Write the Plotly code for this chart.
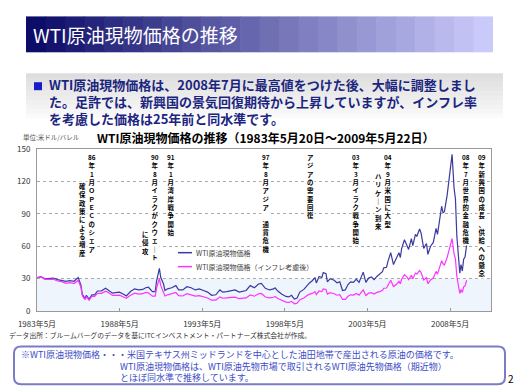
import plotly.graph_objects as go

# ---------------- data ----------------
dates = [
    "1983-05-20", "1983-08-15", "1983-11-15", "1984-02-15", "1984-05-15", "1984-08-15", "1984-11-15",
    "1985-02-15", "1985-05-15", "1985-08-15", "1985-11-15", "1986-01-15", "1986-02-15", "1986-04-15",
    "1986-05-15", "1986-07-15", "1986-09-15", "1986-11-15", "1987-01-15", "1987-04-15", "1987-07-15",
    "1987-09-15", "1987-12-15", "1988-02-15", "1988-05-15", "1988-08-15", "1988-10-15", "1989-01-15",
    "1989-04-15", "1989-07-15", "1989-10-15", "1989-12-15", "1990-02-15", "1990-05-15", "1990-07-15",
    "1990-08-15", "1990-10-15", "1990-11-15", "1990-12-15", "1991-01-15", "1991-02-15", "1991-04-15",
    "1991-07-15", "1991-10-15", "1991-12-15", "1992-03-15", "1992-06-15", "1992-09-15", "1992-12-15",
    "1993-03-15", "1993-06-15", "1993-09-15", "1993-12-15", "1994-03-15", "1994-06-15", "1994-08-15",
    "1994-11-15", "1995-02-15", "1995-05-15", "1995-08-15", "1995-11-15", "1996-01-15", "1996-04-15",
    "1996-07-15", "1996-10-15", "1996-12-15", "1997-03-15", "1997-06-15", "1997-09-15", "1997-10-15",
    "1997-12-15", "1998-03-15", "1998-06-15", "1998-08-15", "1998-10-15", "1998-12-15", "1999-02-15",
    "1999-04-15", "1999-07-15", "1999-09-15", "1999-11-15", "2000-01-15", "2000-03-15", "2000-04-15",
    "2000-06-15", "2000-08-15", "2000-09-15", "2000-11-15", "2000-12-15", "2001-02-15", "2001-05-15",
    "2001-07-15", "2001-09-15", "2001-11-15", "2002-01-15", "2002-03-15", "2002-05-15", "2002-07-15",
    "2002-09-15", "2002-11-15", "2003-01-15", "2003-02-15", "2003-04-15", "2003-06-15", "2003-08-15",
    "2003-10-15", "2003-12-15", "2004-02-15", "2004-04-15", "2004-05-15", "2004-07-15", "2004-08-15",
    "2004-10-15", "2004-12-15", "2005-02-15", "2005-04-15", "2005-05-15", "2005-06-15", "2005-08-15",
    "2005-10-15", "2005-11-15", "2006-01-15", "2006-02-15", "2006-04-15", "2006-05-15", "2006-07-15",
    "2006-08-15", "2006-10-15", "2006-12-15", "2007-01-15", "2007-03-15", "2007-05-15", "2007-07-15",
    "2007-08-15", "2007-09-15", "2007-11-15", "2007-12-15", "2008-01-15", "2008-03-15", "2008-05-15",
    "2008-07-03", "2008-08-15", "2008-09-15", "2008-10-15", "2008-11-15", "2008-12-20", "2009-01-15",
    "2009-02-15", "2009-03-15", "2009-04-15", "2009-05-22",
]

wti_nominal = [
    30.8, 31.8, 29.8, 30.2, 30.5, 29.0, 28.5,
    27.5, 28.2, 27.5, 31.0, 24.0, 15.5, 11.5,
    14.5, 11.0, 15.0, 15.0, 18.5, 18.7, 21.0,
    19.5, 16.5, 17.0, 17.5, 15.5, 14.0, 18.0,
    20.5, 19.5, 20.0, 21.5, 22.0, 18.0, 18.0,
    28.0, 39.5, 31.0, 27.5, 25.0, 19.0, 20.5,
    21.5, 23.5, 19.5, 19.5, 22.5, 21.5, 19.5,
    20.5, 19.0, 17.5, 14.5, 15.0, 19.5, 17.5,
    18.0, 18.5, 19.5, 17.5, 18.0, 19.0, 23.5,
    21.5, 25.0, 25.5, 21.0, 19.5, 20.5, 21.5,
    18.5, 15.5, 13.5, 13.0, 14.5, 11.0, 12.0,
    17.5, 20.0, 23.5, 26.0, 28.0, 31.0, 26.0,
    32.0, 31.0, 35.5, 34.5, 27.0, 30.0, 28.5,
    26.0, 27.0, 19.0, 19.5, 24.5, 27.0, 26.5,
    29.5, 26.5, 32.0, 36.0, 26.5, 30.5, 31.5,
    29.0, 32.0, 34.0, 36.5, 40.0, 40.5, 46.0,
    54.0, 43.0, 48.0, 54.0, 49.5, 58.0, 66.0,
    61.0, 57.0, 67.0, 60.5, 71.0, 69.0, 76.0,
    72.5, 58.0, 62.5, 52.5, 60.0, 63.5, 76.5,
    71.0, 81.0, 97.0, 91.0, 92.0, 107.0, 126.0,
    145.0, 114.0, 104.0, 70.0, 52.0, 35.0, 43.0,
    37.0, 48.0, 50.0, 61.5,
]

wti_real = [
    30.8, 31.6, 29.3, 29.3, 29.4, 27.8, 27.2,
    25.6, 26.2, 25.4, 28.5, 21.9, 14.1, 10.4,
    13.2, 10.0, 13.6, 13.6, 16.3, 16.4, 18.4,
    17.1, 14.4, 14.4, 14.7, 13.0, 11.8, 14.5,
    16.5, 15.7, 16.0, 17.2, 16.9, 13.8, 13.7,
    21.3, 30.0, 23.5, 20.8, 18.3, 13.9, 15.0,
    15.7, 17.1, 14.2, 13.9, 16.0, 15.2, 13.8,
    14.2, 13.1, 12.0, 10.0, 10.1, 13.1, 11.8,
    12.1, 12.1, 12.8, 11.4, 11.8, 12.1, 14.9,
    13.7, 15.9, 16.2, 13.0, 12.1, 12.7, 13.4,
    11.5, 9.5, 8.2, 7.9, 8.9, 6.7, 7.2,
    10.5, 12.0, 14.1, 15.6, 16.3, 18.0, 15.1,
    18.5, 17.9, 20.5, 19.9, 15.6, 16.9, 16.0,
    14.6, 15.2, 10.7, 10.8, 13.6, 15.0, 14.7,
    16.3, 14.7, 17.3, 19.5, 14.3, 16.5, 17.0,
    15.7, 17.3, 17.9, 19.2, 21.1, 21.3, 24.2,
    28.5, 22.7, 24.5, 27.5, 25.2, 29.6, 33.7,
    31.1, 29.1, 33.1, 29.9, 35.1, 34.1, 37.5,
    35.8, 28.7, 30.9, 25.2, 28.8, 30.5, 36.7,
    34.1, 38.9, 46.6, 43.7, 42.6, 49.5, 58.3,
    67.1, 52.8, 48.2, 32.4, 24.1, 16.2, 19.9,
    17.2, 22.3, 23.2, 28.5,
]

series_names = ["WTI原油現物価格", "WTI原油現物価格（インフレ考慮後）"]
x_tickvals = ["1983-05-20", "1988-05-20", "1993-05-20", "1998-05-20", "2003-05-20", "2008-05-20"]
x_ticktext = ["1983年5月", "1988年5月", "1993年5月", "1998年5月", "2003年5月", "2008年5月"]
y_tickvals = [0, 30, 60, 90, 120, 150]

events = [
    # (x px, top px, rows of vertical text)
    (92, 152, ["86", "年", "1", "月", "Ｏ", "Ｐ", "Ｅ", "Ｃ", "の", "シ", "ェ", "ア"]),
    (82, 181, ["確", "保", "政", "策", "に", "よ", "る", "増", "産"]),
    (155, 152, ["90", "年", "8", "月", "イ", "ラ", "ク", "が", "ク", "ウ", "ェ", "｜", "ト"]),
    (145, 229, ["に", "侵", "攻"]),
    (171, 152, ["91", "年", "1", "月", "湾", "岸", "戦", "争", "開", "始"]),
    (266, 152, ["97", "年", "8", "月", "ア", "ジ", "ア", "　", "通", "貨", "危", "機"]),
    (310, 152, ["ア", "ジ", "ア", "の", "需", "要", "回", "復"]),
    (356, 152, ["03", "年", "3", "月", "イ", "ラ", "ク", "戦", "争", "開", "始"]),
    (388, 152, ["04", "年", "9", "月", "米", "国", "に", "大", "型"]),
    (378, 171, ["ハ", "リ", "ケ", "｜", "ン", "到", "来"]),
    (466, 152, ["08", "年", "7", "月", "世", "界", "的", "金", "融", "危", "機"]),
    (482, 152, ["09", "年", "新", "興", "国", "の", "成", "長", "、", "供", "給", "へ", "の", "懸", "念"]),
]

# ---------------- layout helpers ----------------
W, H = 520, 390
L, R, T, B = 37, 491, 149, 311.5
FONT = "Noto Sans CJK JP"


def PX(x):
    return (x - L) / (R - L)


def PY(y):
    return (B - y) / (B - T)


fig = go.Figure()
fig.add_trace(go.Scatter(x=dates, y=wti_nominal, name=series_names[0], mode="lines",
                         line=dict(color="#3a3aa0", width=1.2)))
fig.add_trace(go.Scatter(x=dates, y=wti_real, name=series_names[1], mode="lines",
                         line=dict(color="#ff33ff", width=1.2)))

shapes = []
# title bar (stepped gradient)
n = 24
x0t, x1t = 26, 493
for i in range(n):
    f = i / (n - 1)
    r = int(12 + (202 - 12) * f)
    g = int(12 + (202 - 12) * f)
    b = int(105 + (250 - 105) * f)
    xa = x0t + (x1t - x0t) * i / n
    xb = x0t + (x1t - x0t) * (i + 1) / n + 0.6
    shapes.append(dict(type="rect", xref="paper", yref="paper", x0=PX(xa), x1=PX(min(xb, x1t)),
                       y0=PY(52), y1=PY(16), fillcolor=f"rgb({r},{g},{b})", line=dict(width=0)))
# gray text box (vertical gradient)
m = 10
for i in range(m):
    f = i / (m - 1)
    c = int(222 + (250 - 222) * f)
    ya = 73 + (118 - 73) * i / m
    yb = 73 + (118 - 73) * (i + 1) / m + 0.5
    shapes.append(dict(type="rect", xref="paper", yref="paper", x0=PX(26), x1=PX(503),
                       y0=PY(min(yb, 118)), y1=PY(ya), fillcolor=f"rgb({c},{c},{c})", line=dict(width=0)))
# bullet
shapes.append(dict(type="rect", xref="paper", yref="paper", x0=PX(34), x1=PX(42), y0=PY(90), y1=PY(82),
                   fillcolor="#1a1ac8", line=dict(width=0)))
# light blue band 0-30
shapes.append(dict(type="rect", xref="paper", yref="y", x0=0, x1=1, y0=0, y1=30,
                   fillcolor="#eef5fc", line=dict(width=0), layer="below"))
# legend swatches
shapes.append(dict(type="line", xref="paper", yref="paper", x0=PX(178), x1=PX(192), y0=PY(253), y1=PY(253),
                   line=dict(color="#3a3aa0", width=1.5)))
shapes.append(dict(type="line", xref="paper", yref="paper", x0=PX(178), x1=PX(192), y0=PY(267), y1=PY(267),
                   line=dict(color="#ff33ff", width=1.5)))
# rounded note box
bx0, bx1, by0, by1, rr = 14, 505, 347, 385, 7
path = (f"M {PX(bx0 + rr)},{PY(by0)} L {PX(bx1 - rr)},{PY(by0)} Q {PX(bx1)},{PY(by0)} {PX(bx1)},{PY(by0 + rr)} "
        f"L {PX(bx1)},{PY(by1 - rr)} Q {PX(bx1)},{PY(by1)} {PX(bx1 - rr)},{PY(by1)} "
        f"L {PX(bx0 + rr)},{PY(by1)} Q {PX(bx0)},{PY(by1)} {PX(bx0)},{PY(by1 - rr)} "
        f"L {PX(bx0)},{PY(by0 + rr)} Q {PX(bx0)},{PY(by0)} {PX(bx0 + rr)},{PY(by0)} Z")
shapes.append(dict(type="path", xref="paper", yref="paper", path=path, fillcolor="white",
                   line=dict(color="#7b7bc6", width=2)))

ann = []


def text(x, y, s, size, color="#000", bold=False, anchor="left", yanchor="middle", bg=None, align="left"):
    d = dict(xref="paper", yref="paper", x=PX(x), y=PY(y), text=(f"<b>{s}</b>" if bold else s),
             showarrow=False, xanchor=anchor, yanchor=yanchor, align=align,
             font=dict(family=FONT, size=size, color=color))
    if bg:
        d["bgcolor"] = bg
        d["borderpad"] = 0
    ann.append(d)


text(31, 34, "WTI原油現物価格の推移", 19, "white")
text(47, 101.5,
     "WTI原油現物価格は、2008年7月に最高値をつけた後、大幅に調整しまし<br>"
     "た。足許では、新興国の景気回復期待から上昇していますが、インフレ率<br>"
     "を考慮した価格は25年前と同水準です。", 13, "#1b2580", bold=True)
text(266, 137, "WTI原油現物価格の推移（1983年5月20日～2009年5月22日）", 12, "#000", bold=True, anchor="center")
text(21, 136.5, "単位:米ドル/バレル", 6.5, "#555")
text(194, 253, series_names[0], 7, "#444")
text(194, 267, series_names[1], 7, "#444")
text(7, 336, "データ出所：ブルームバーグのデータを基にITCインベストメント・パートナーズ株式会社が作成。", 6.8, "#333")
indent = "　" * 11
text(19, 366.5,
     "※WTI原油現物価格・・・米国テキサス州ミッドランドを中心とした油田地帯で産出される原油の価格です。<br>"
     + indent + "WTI原油現物価格は、WTI原油先物市場で取引されるWTI原油先物価格（期近物）<br>"
     + indent + "とほぼ同水準で推移しています。", 9.0, "#3c4bc4")
text(511, 379, "2", 10, "#000", anchor="center")

for (cx, top, rows) in events:
    text(cx, top, "<br>".join(rows), 6.4, "#000", bold=True, anchor="center", yanchor="top", bg="white",
         align="center")

fig.update_layout(
    width=W, height=H,
    margin=dict(l=L, r=W - R, t=T, b=H - B, pad=0),
    paper_bgcolor="white", plot_bgcolor="white",
    showlegend=False,
    shapes=shapes, annotations=ann,
    xaxis=dict(type="date", range=["1983-05-20", "2010-11-10"], tickvals=x_tickvals, ticktext=x_ticktext,
               showgrid=False, showline=True, linecolor="#999", mirror=True, ticks="inside", ticklen=3,
               tickcolor="#999", tickfont=dict(family=FONT, size=8, color="#333"), ticklabelstandoff=5,
               zeroline=False),
    yaxis=dict(range=[0, 150], tickvals=y_tickvals, showgrid=True, gridcolor="#aaa", griddash="dot",
               showline=True, linecolor="#999", mirror=True, ticks="", zeroline=False,
               tickfont=dict(family=FONT, size=8, color="#333"), ticklabelstandoff=4),
)

fig.write_html("out.html", config={"displayModeBar": False},
               post_script="document.body.style.margin='0px';")
